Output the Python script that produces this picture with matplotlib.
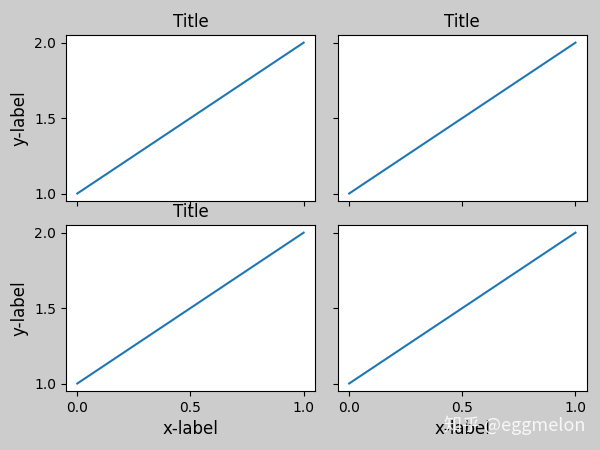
import matplotlib
matplotlib.use("Agg")
import matplotlib.pyplot as plt

x_vals = [0, 1]
y_vals = [1, 2]

fig, axs = plt.subplots(2, 2, figsize=(6, 4.5), dpi=100, sharex=True, sharey=True,
                        facecolor='0.8')
fig.subplots_adjust(left=0.11, right=0.978, top=0.922, bottom=0.131,
                    wspace=0.092, hspace=0.145)

for i, ax in enumerate(axs.flat):
    ax.plot(x_vals, y_vals)
    ax.locator_params(nbins=3)
    if i != 3:
        ax.set_title('Title', fontsize=12)
    if i % 2 == 0:
        ax.set_ylabel('y-label', fontsize=12)
    if i >= 2:
        ax.set_xlabel('x-label', fontsize=12)

fig.text(0.74, 0.055, '知乎 @eggmelon', color='white', alpha=0.85, fontsize=13,
         family=['Noto Sans CJK SC', 'DejaVu Sans'], va='center')

fig.savefig('out.png', dpi=100, facecolor=fig.get_facecolor())
